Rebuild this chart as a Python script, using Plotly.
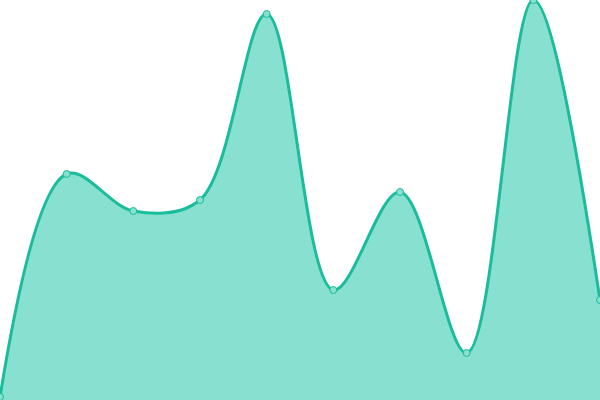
import plotly.graph_objects as go

x_pos = [0, 1, 2, 3, 4, 5, 6, 7, 8, 9]
values = [3, 226, 189, 200, 386, 110, 208, 47, 400, 100]

fig = go.Figure()
fig.add_trace(
    go.Scatter(
        x=x_pos,
        y=values,
        mode="lines+markers",
        line=dict(shape="spline", smoothing=1, color="#1abc9c", width=3),
        fill="tozeroy",
        fillcolor="#88e0d0",
        marker=dict(size=7, color="#88e0d0", line=dict(color="#1abc9c", width=1)),
        cliponaxis=False,
        hoverinfo="skip",
    )
)

fig.update_layout(
    width=600,
    height=400,
    margin=dict(l=0, r=0, t=0, b=0),
    paper_bgcolor="white",
    plot_bgcolor="white",
    showlegend=False,
    xaxis=dict(range=[0, 9], visible=False),
    yaxis=dict(range=[0, 400], visible=False),
)
# drop the browser's default body margin so the chart sits flush
fig.write_html(
    "out.html",
    config={"displayModeBar": False},
    post_script="document.body.style.margin='0';",
)
